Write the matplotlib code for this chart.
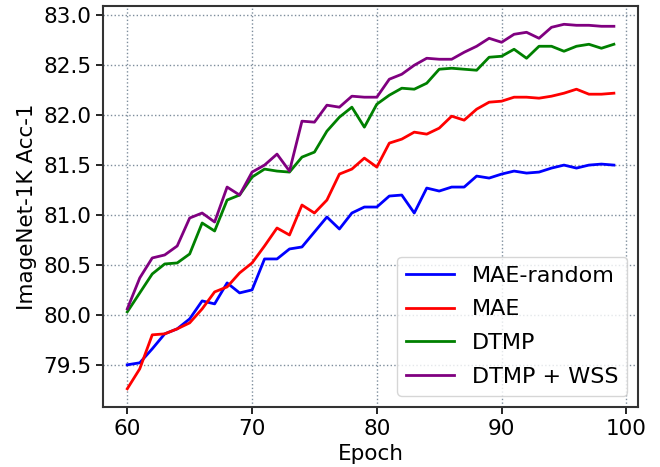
import matplotlib
matplotlib.use("Agg")
import matplotlib.pyplot as plt

epochs = list(range(60, 100))

mae_random = [79.50, 79.52, 79.66, 79.81, 79.86, 79.96, 80.14, 80.11, 80.32, 80.22,
              80.25, 80.56, 80.56, 80.66, 80.68, 80.83, 80.98, 80.86, 81.02, 81.08,
              81.08, 81.19, 81.20, 81.02, 81.27, 81.24, 81.28, 81.28, 81.39, 81.37,
              81.41, 81.44, 81.42, 81.43, 81.47, 81.50, 81.47, 81.50, 81.51, 81.50]

mae = [79.26, 79.46, 79.80, 79.81, 79.86, 79.92, 80.06, 80.23, 80.28, 80.42,
       80.52, 80.69, 80.87, 80.80, 81.10, 81.02, 81.15, 81.41, 81.46, 81.57,
       81.48, 81.72, 81.76, 81.83, 81.81, 81.87, 81.99, 81.95, 82.06, 82.13,
       82.14, 82.18, 82.18, 82.17, 82.19, 82.22, 82.26, 82.21, 82.21, 82.22]

dtmp = [80.03, 80.22, 80.41, 80.51, 80.52, 80.61, 80.92, 80.84, 81.15, 81.20,
        81.38, 81.46, 81.44, 81.43, 81.58, 81.63, 81.84, 81.98, 82.08, 81.88,
        82.11, 82.20, 82.27, 82.26, 82.32, 82.46, 82.47, 82.46, 82.45, 82.58,
        82.59, 82.66, 82.57, 82.69, 82.69, 82.64, 82.69, 82.71, 82.67, 82.71]

dtmp_wss = [80.06, 80.37, 80.57, 80.60, 80.69, 80.97, 81.02, 80.93, 81.28, 81.20,
            81.43, 81.50, 81.61, 81.44, 81.94, 81.93, 82.10, 82.08, 82.19, 82.18,
            82.18, 82.36, 82.41, 82.50, 82.57, 82.56, 82.56, 82.63, 82.69, 82.77,
            82.73, 82.81, 82.83, 82.77, 82.88, 82.91, 82.90, 82.90, 82.89, 82.89]

series_labels = ["MAE-random", "MAE", "DTMP", "DTMP + WSS"]
series_colors = ["blue", "red", "green", "purple"]
xticks = [60, 70, 80, 90, 100]
yticks = [79.5, 80.0, 80.5, 81.0, 81.5, 82.0, 82.5, 83.0]

fig = plt.figure(figsize=(6.6, 4.67), dpi=100)
ax = fig.add_axes([0.156, 0.1285, 0.811, 0.8585])

for vals, lab, col in zip([mae_random, mae, dtmp, dtmp_wss], series_labels, series_colors):
    ax.plot(epochs, vals, color=col, linewidth=2, label=lab)

ax.set_xticks(xticks)
ax.set_yticks(yticks)
ax.tick_params(labelsize=15.5, width=1.2, length=5)
ax.set_xlabel("Epoch", fontsize=15.5)
ax.set_ylabel("ImageNet-1K Acc-1", fontsize=15.5)
ax.grid(True, linestyle=":", color="#7d8d9c", linewidth=1.0)
for s in ax.spines.values():
    s.set_linewidth(1.5)
    s.set_color("#333333")
ax.legend(loc="lower right", fontsize=16, handlelength=2.15, labelspacing=0.62,
          framealpha=0.8)

fig.savefig("out.png", dpi=100)
